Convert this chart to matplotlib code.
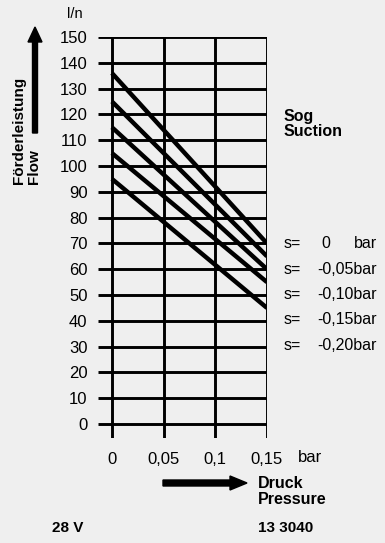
import matplotlib.pyplot as plt
from matplotlib.patches import FancyArrow

# Daten
druck = [0, 0.15]
kurven = [
    [136, 70],
    [125, 65],
    [115, 60],
    [105, 55],
    [95, 45],
]
s_werte = ["0", "-0,05", "-0,10", "-0,15", "-0,20"]
y_ticks = list(range(0, 151, 10))
x_ticks = [0, 0.05, 0.1, 0.15]
x_labels = ["0", "0,05", "0,1", "0,15"]

plt.rcParams['font.family'] = ['Liberation Sans', 'DejaVu Sans']
bg = '#efefef'

fig = plt.figure(figsize=(3.85, 5.43), dpi=100, facecolor=bg)
W, H = 385, 543

# Diagramm: links 98px, rechts 267px, oben 37px, unten 438px
ax = fig.add_axes([98 / W, 1 - 438 / H, (267 - 98) / W, (438 - 37) / H])
ax.set_facecolor('none')
xmin, xmax = -0.0135, 0.15
ymin, ymax = -5.4, 150
ax.set_xlim(xmin, xmax)
ax.set_ylim(ymin, ymax)
for sp in ax.spines.values():
    sp.set_visible(False)

ax.hlines(y_ticks, xmin, xmax, color='black', lw=2.1)
ax.vlines(x_ticks, ymin, ymax, color='black', lw=2.1)
for k in kurven:
    ax.plot(druck, k, color='black', lw=3.2, solid_capstyle='butt')

ax.set_yticks(y_ticks)
ax.set_yticklabels([str(v) for v in y_ticks])
ax.set_xticks(x_ticks)
ax.set_xticklabels(x_labels)
ax.tick_params(axis='y', length=0, pad=7.5, labelsize=12)
ax.tick_params(axis='x', length=0, pad=10, labelsize=12)

# Beschriftungen in Pixelkoordinaten
ov = fig.add_axes([0, 0, 1, 1])
ov.set_xlim(0, W)
ov.set_ylim(H, 0)
ov.axis('off')
ov.patch.set_alpha(0)

ov.text(75, 14, "l/n", fontsize=10.5, ha='center', va='center')
ov.add_patch(FancyArrow(35, 133, 0, -91, width=5, head_width=14, head_length=15,
                        length_includes_head=False, color='black'))
ov.text(19, 184, "Förderleistung", rotation=90, fontsize=11, fontweight='bold',
        ha='center', va='bottom')
ov.text(34, 184, "Flow", rotation=90, fontsize=11, fontweight='bold',
        ha='center', va='bottom')

ov.text(284, 116, "Sog", fontsize=11.5, fontweight='bold', ha='left', va='center')
ov.text(284, 132, "Suction", fontsize=11.5, fontweight='bold', ha='left', va='center')

for i, s in enumerate(s_werte):
    yy = 244 + i * 25.3
    ov.text(284, yy, "s=", fontsize=11.5, ha='left', va='center')
    if s == "0":
        ov.text(326, yy, "0", fontsize=11.5, ha='center', va='center')
        ov.text(377, yy, "bar", fontsize=11.5, ha='right', va='center')
    else:
        ov.text(377, yy, s + "bar", fontsize=11.5, ha='right', va='center')

ov.text(298, 458, "bar", fontsize=12, ha='left', va='center')
ov.add_patch(FancyArrow(163, 483, 67, 0, width=6, head_width=14, head_length=17,
                        length_includes_head=False, color='black'))
ov.text(258, 483, "Druck", fontsize=11.5, fontweight='bold', ha='left', va='center')
ov.text(258, 499, "Pressure", fontsize=11.5, fontweight='bold', ha='left', va='center')

ov.text(52, 528, "28 V", fontsize=11, fontweight='bold', ha='left', va='center')
ov.text(258, 528, "13 3040", fontsize=11, fontweight='bold', ha='left', va='center')

fig.savefig('out.png', dpi=100, facecolor=bg)
